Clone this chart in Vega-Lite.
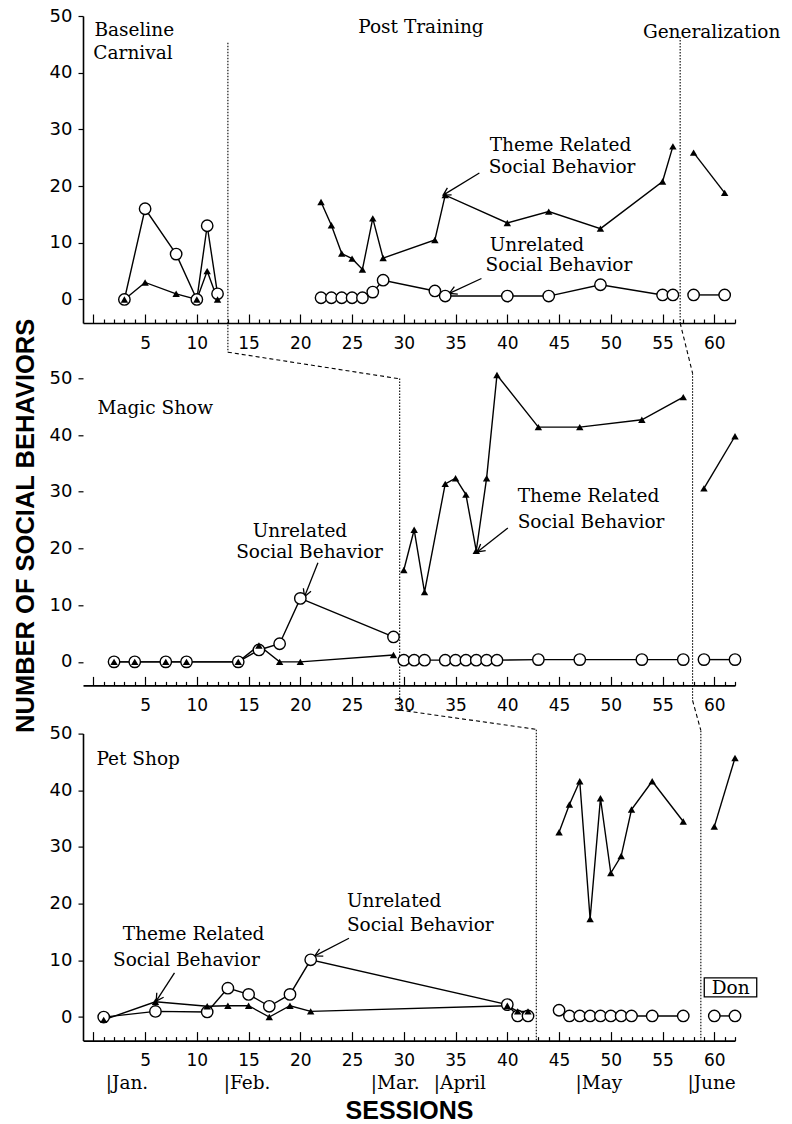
{
"$schema": "https://vega.github.io/schema/vega-lite/v6.json",
"padding": {"left": 12, "top": 7, "right": 5, "bottom": 5},
"background": "white",
"config": {
  "view": {"stroke": null},
  "axis": {"domainColor": "black", "tickColor": "black", "labelColor": "black", "titleColor": "black", "grid": false, "labelFont": "DejaVu Sans", "domainWidth": 1.6, "tickWidth": 1.2},
  "axisX": {"labelFontSize": 17},
  "axisY": {"labelFontSize": 18}
},
"datasets": {
  "pts": [
    {"panel":1,"phase":"B","series":"U","x":3,"y":0},{"panel":1,"phase":"B","series":"U","x":5,"y":16},{"panel":1,"phase":"B","series":"U","x":8,"y":8},{"panel":1,"phase":"B","series":"U","x":10,"y":0},{"panel":1,"phase":"B","series":"U","x":11,"y":13},{"panel":1,"phase":"B","series":"U","x":12,"y":1},
    {"panel":1,"phase":"B","series":"T","x":3,"y":0},{"panel":1,"phase":"B","series":"T","x":5,"y":3},{"panel":1,"phase":"B","series":"T","x":8,"y":1},{"panel":1,"phase":"B","series":"T","x":10,"y":0},{"panel":1,"phase":"B","series":"T","x":11,"y":5},{"panel":1,"phase":"B","series":"T","x":12,"y":0},
    {"panel":1,"phase":"P","series":"U","x":22,"y":0.3},{"panel":1,"phase":"P","series":"U","x":23,"y":0.3},{"panel":1,"phase":"P","series":"U","x":24,"y":0.3},{"panel":1,"phase":"P","series":"U","x":25,"y":0.3},{"panel":1,"phase":"P","series":"U","x":26,"y":0.3},{"panel":1,"phase":"P","series":"U","x":27,"y":1.3},{"panel":1,"phase":"P","series":"U","x":28,"y":3.4},{"panel":1,"phase":"P","series":"U","x":33,"y":1.5},{"panel":1,"phase":"P","series":"U","x":34,"y":0.6},{"panel":1,"phase":"P","series":"U","x":40,"y":0.6},{"panel":1,"phase":"P","series":"U","x":44,"y":0.6},{"panel":1,"phase":"P","series":"U","x":49,"y":2.6},{"panel":1,"phase":"P","series":"U","x":55,"y":0.8},{"panel":1,"phase":"P","series":"U","x":56,"y":0.8},
    {"panel":1,"phase":"P","series":"T","x":22,"y":17.2},{"panel":1,"phase":"P","series":"T","x":23,"y":13.1},{"panel":1,"phase":"P","series":"T","x":24,"y":8.1},{"panel":1,"phase":"P","series":"T","x":25,"y":7.2},{"panel":1,"phase":"P","series":"T","x":26,"y":5.3},{"panel":1,"phase":"P","series":"T","x":27,"y":14.3},{"panel":1,"phase":"P","series":"T","x":28,"y":7.3},{"panel":1,"phase":"P","series":"T","x":33,"y":10.5},{"panel":1,"phase":"P","series":"T","x":34,"y":18.4},{"panel":1,"phase":"P","series":"T","x":40,"y":13.5},{"panel":1,"phase":"P","series":"T","x":44,"y":15.5},{"panel":1,"phase":"P","series":"T","x":49,"y":12.5},{"panel":1,"phase":"P","series":"T","x":55,"y":20.8},{"panel":1,"phase":"P","series":"T","x":56,"y":27},
    {"panel":1,"phase":"G","series":"U","x":58,"y":0.8},{"panel":1,"phase":"G","series":"U","x":61,"y":0.8},
    {"panel":1,"phase":"G","series":"T","x":58,"y":25.9},{"panel":1,"phase":"G","series":"T","x":61,"y":18.8},
    {"panel":2,"phase":"B","series":"U","x":2,"y":0},{"panel":2,"phase":"B","series":"U","x":4,"y":0},{"panel":2,"phase":"B","series":"U","x":7,"y":0},{"panel":2,"phase":"B","series":"U","x":9,"y":0},{"panel":2,"phase":"B","series":"U","x":14,"y":0},{"panel":2,"phase":"B","series":"U","x":16,"y":2.1},{"panel":2,"phase":"B","series":"U","x":18,"y":3.2},{"panel":2,"phase":"B","series":"U","x":20,"y":11.2},{"panel":2,"phase":"B","series":"U","x":29,"y":4.4},
    {"panel":2,"phase":"B","series":"T","x":2,"y":0},{"panel":2,"phase":"B","series":"T","x":4,"y":0},{"panel":2,"phase":"B","series":"T","x":7,"y":0},{"panel":2,"phase":"B","series":"T","x":9,"y":0},{"panel":2,"phase":"B","series":"T","x":14,"y":0},{"panel":2,"phase":"B","series":"T","x":16,"y":2.9},{"panel":2,"phase":"B","series":"T","x":18,"y":0},{"panel":2,"phase":"B","series":"T","x":20,"y":0},{"panel":2,"phase":"B","series":"T","x":29,"y":1.2},
    {"panel":2,"phase":"P","series":"U","x":30,"y":0.3},{"panel":2,"phase":"P","series":"U","x":31,"y":0.3},{"panel":2,"phase":"P","series":"U","x":32,"y":0.3},{"panel":2,"phase":"P","series":"U","x":34,"y":0.3},{"panel":2,"phase":"P","series":"U","x":35,"y":0.3},{"panel":2,"phase":"P","series":"U","x":36,"y":0.3},{"panel":2,"phase":"P","series":"U","x":37,"y":0.3},{"panel":2,"phase":"P","series":"U","x":38,"y":0.3},{"panel":2,"phase":"P","series":"U","x":39,"y":0.3},{"panel":2,"phase":"P","series":"U","x":43,"y":0.4},{"panel":2,"phase":"P","series":"U","x":47,"y":0.4},{"panel":2,"phase":"P","series":"U","x":53,"y":0.4},{"panel":2,"phase":"P","series":"U","x":57,"y":0.4},
    {"panel":2,"phase":"P","series":"T","x":30,"y":16.2},{"panel":2,"phase":"P","series":"T","x":31,"y":23.3},{"panel":2,"phase":"P","series":"T","x":32,"y":12.3},{"panel":2,"phase":"P","series":"T","x":34,"y":31.4},{"panel":2,"phase":"P","series":"T","x":35,"y":32.4},{"panel":2,"phase":"P","series":"T","x":36,"y":29.5},{"panel":2,"phase":"P","series":"T","x":37,"y":19.6},{"panel":2,"phase":"P","series":"T","x":38,"y":32.4},{"panel":2,"phase":"P","series":"T","x":39,"y":50.6},{"panel":2,"phase":"P","series":"T","x":43,"y":41.4},{"panel":2,"phase":"P","series":"T","x":47,"y":41.4},{"panel":2,"phase":"P","series":"T","x":53,"y":42.7},{"panel":2,"phase":"P","series":"T","x":57,"y":46.7},
    {"panel":2,"phase":"G","series":"U","x":59,"y":0.4},{"panel":2,"phase":"G","series":"U","x":62,"y":0.4},
    {"panel":2,"phase":"G","series":"T","x":59,"y":30.6},{"panel":2,"phase":"G","series":"T","x":62,"y":39.8},
    {"panel":3,"phase":"B","series":"U","x":1,"y":0},{"panel":3,"phase":"B","series":"U","x":6,"y":1},{"panel":3,"phase":"B","series":"U","x":11,"y":0.9},{"panel":3,"phase":"B","series":"U","x":13,"y":5.1},{"panel":3,"phase":"B","series":"U","x":15,"y":4},{"panel":3,"phase":"B","series":"U","x":17,"y":1.9},{"panel":3,"phase":"B","series":"U","x":19,"y":4},{"panel":3,"phase":"B","series":"U","x":21,"y":10.1},{"panel":3,"phase":"B","series":"U","x":40,"y":2.2},{"panel":3,"phase":"B","series":"U","x":41,"y":0.2},{"panel":3,"phase":"B","series":"U","x":42,"y":0.2},
    {"panel":3,"phase":"B","series":"T","x":1,"y":-0.5},{"panel":3,"phase":"B","series":"T","x":6,"y":2.7},{"panel":3,"phase":"B","series":"T","x":11,"y":1.9},{"panel":3,"phase":"B","series":"T","x":13,"y":2},{"panel":3,"phase":"B","series":"T","x":15,"y":2},{"panel":3,"phase":"B","series":"T","x":17,"y":0},{"panel":3,"phase":"B","series":"T","x":19,"y":2},{"panel":3,"phase":"B","series":"T","x":21,"y":1},{"panel":3,"phase":"B","series":"T","x":40,"y":2},{"panel":3,"phase":"B","series":"T","x":41,"y":1},{"panel":3,"phase":"B","series":"T","x":42,"y":1},
    {"panel":3,"phase":"P","series":"U","x":45,"y":1.2},{"panel":3,"phase":"P","series":"U","x":46,"y":0.2},{"panel":3,"phase":"P","series":"U","x":47,"y":0.2},{"panel":3,"phase":"P","series":"U","x":48,"y":0.2},{"panel":3,"phase":"P","series":"U","x":49,"y":0.2},{"panel":3,"phase":"P","series":"U","x":50,"y":0.2},{"panel":3,"phase":"P","series":"U","x":51,"y":0.2},{"panel":3,"phase":"P","series":"U","x":52,"y":0.2},{"panel":3,"phase":"P","series":"U","x":54,"y":0.2},{"panel":3,"phase":"P","series":"U","x":57,"y":0.2},
    {"panel":3,"phase":"P","series":"T","x":45,"y":32.6},{"panel":3,"phase":"P","series":"T","x":46,"y":37.5},{"panel":3,"phase":"P","series":"T","x":47,"y":41.6},{"panel":3,"phase":"P","series":"T","x":48,"y":17.3},{"panel":3,"phase":"P","series":"T","x":49,"y":38.6},{"panel":3,"phase":"P","series":"T","x":50,"y":25.4},{"panel":3,"phase":"P","series":"T","x":51,"y":28.4},{"panel":3,"phase":"P","series":"T","x":52,"y":36.6},{"panel":3,"phase":"P","series":"T","x":54,"y":41.6},{"panel":3,"phase":"P","series":"T","x":57,"y":34.5},
    {"panel":3,"phase":"G","series":"U","x":60,"y":0.2},{"panel":3,"phase":"G","series":"U","x":62,"y":0.2},
    {"panel":3,"phase":"G","series":"T","x":60,"y":33.6},{"panel":3,"phase":"G","series":"T","x":62,"y":45.7}
  ],
  "txt": [
    {"panel":1,"x":0.1,"y":47.6,"label":"Baseline"},
    {"panel":1,"x":0.0,"y":43.5,"label":"Carnival"},
    {"panel":1,"x":25.6,"y":48.1,"label":"Post Training"},
    {"panel":1,"x":53.1,"y":47.2,"label":"Generalization"},
    {"panel":1,"x":38.3,"y":27.3,"label":"Theme Related"},
    {"panel":1,"x":38.2,"y":23.4,"label":"Social Behavior"},
    {"panel":1,"x":38.3,"y":9.6,"label":"Unrelated"},
    {"panel":1,"x":37.9,"y":6.0,"label":"Social Behavior"},
    {"panel":2,"x":0.4,"y":44.8,"label":"Magic Show"},
    {"panel":2,"x":15.4,"y":23.0,"label":"Unrelated"},
    {"panel":2,"x":13.8,"y":19.4,"label":"Social Behavior"},
    {"panel":2,"x":41.0,"y":29.2,"label":"Theme Related"},
    {"panel":2,"x":41.0,"y":24.7,"label":"Social Behavior"},
    {"panel":3,"x":0.3,"y":45.5,"label":"Pet Shop"},
    {"panel":3,"x":2.85,"y":14.6,"label":"Theme Related"},
    {"panel":3,"x":1.9,"y":10.0,"label":"Social Behavior"},
    {"panel":3,"x":24.5,"y":20.5,"label":"Unrelated"},
    {"panel":3,"x":24.5,"y":16.3,"label":"Social Behavior"},
    {"panel":3,"x":59.75,"y":5.2,"label":"Don"},
    {"panel":3,"x":1.2,"y":-11.6,"label":"|Jan."},
    {"panel":3,"x":12.6,"y":-11.6,"label":"|Feb."},
    {"panel":3,"x":26.8,"y":-11.6,"label":"|Mar."},
    {"panel":3,"x":32.9,"y":-11.6,"label":"|April"},
    {"panel":3,"x":46.6,"y":-11.6,"label":"|May"},
    {"panel":3,"x":57.4,"y":-11.6,"label":"|June"}
  ],
  "arr": [
    {"panel":1,"id":"a1","x":33.8,"y":18.4,"x2":37.3,"y2":22.3},
    {"panel":1,"id":"a2","x":34.4,"y":1.06,"x2":37.5,"y2":3.7},
    {"panel":2,"id":"a3","x":20.4,"y":11.5,"x2":21.7,"y2":17.5},
    {"panel":2,"id":"a4","x":37.1,"y":19.4,"x2":40.05,"y2":23.6},
    {"panel":3,"id":"a5","x":6.07,"y":2.8,"x2":7.84,"y2":7.8},
    {"panel":3,"id":"a6","x":21.4,"y":10.8,"x2":24.7,"y2":13.9}
  ],
  "ph": [
    {"panel":1,"x":13,"y":45.3,"x2":13,"y2":-9.3,"style":"dot"},
    {"panel":1,"x":13,"y":-9.3,"x2":29.6,"y2":-14.0,"style":"dash"},
    {"panel":1,"x":56.7,"y":46.3,"x2":56.7,"y2":-4.15,"style":"dot"},
    {"panel":1,"x":56.7,"y":-4.15,"x2":57.9,"y2":-13.0,"style":"dash"},
    {"panel":2,"x":29.6,"y":50,"x2":29.6,"y2":-8.5,"style":"dot"},
    {"panel":2,"x":29.6,"y":-8.5,"x2":42.8,"y2":-11.9,"style":"dash"},
    {"panel":2,"x":57.9,"y":50.9,"x2":57.9,"y2":-6.8,"style":"dot"},
    {"panel":2,"x":57.9,"y":-6.8,"x2":58.7,"y2":-12.1,"style":"dash"},
    {"panel":3,"x":42.8,"y":50.7,"x2":42.8,"y2":-4.15,"style":"dot"},
    {"panel":3,"x":58.7,"y":50.5,"x2":58.7,"y2":-4.15,"style":"dot"}
  ],
  "box": [
    {"panel":3,"x":59.03,"x2":64.1,"y":6.93,"y2":3.58}
  ]
},
"vconcat": [
  {
    "width": 652, "height": 307,
    "encoding": {
      "x": {"field": "x", "type": "quantitative", "title": null, "scale": {"domain": [-1, 62], "nice": false, "zero": false},
            "axis": {"values": [0,1,2,3,4,5,6,7,8,9,10,11,12,13,14,15,16,17,18,19,20,21,22,23,24,25,26,27,28,29,30,31,32,33,34,35,36,37,38,39,40,41,42,43,44,45,46,47,48,49,50,51,52,53,54,55,56,57,58,59,60,61,62],
                     "labelExpr": "datum.value % 5 === 0 && datum.value > 0 ? datum.label : ''",
                     "tickSize": {"condition": {"test": "datum.value % 5 === 0", "value": -9}, "value": -4},
                     "labelPadding": 21, "labelOverlap": false, "labelFlush": false}},
      "y": {"field": "y", "type": "quantitative", "title": null, "scale": {"domain": [-4.15, 50], "nice": false, "zero": false},
            "axis": {"values": [0,10,20,30,40,50], "tickSize": 5, "labelPadding": 6}}
    },
    "layer": [
      {"data": {"name": "ph"}, "transform": [{"filter": "datum.panel === 1"}], "mark": {"type": "rule", "color": "black", "strokeWidth": 1.1},
       "encoding": {"x2": {"field": "x2"}, "y2": {"field": "y2"}, "strokeDash": {"field": "style", "type": "nominal", "scale": {"domain": ["dot", "dash"], "range": [[1.5, 1.5], [4, 3]]}, "legend": null}}},
      {"data": {"name": "arr"}, "transform": [{"filter": "datum.panel === 1"}], "mark": {"type": "rule", "color": "black", "strokeWidth": 1.3},
       "encoding": {"x2": {"field": "x2"}, "y2": {"field": "y2"}}},
      {"data": {"name": "arr"}, "transform": [{"filter": "datum.panel === 1"}], "mark": {"type": "point", "shape": "M-1,-0.55L0,0L-1,0.55", "filled": false, "color": "black", "strokeWidth": 1.3, "size": 220, "opacity": 1},
       "encoding": {"angle": {"field": "id", "type": "nominal", "scale": {"type": "ordinal", "domain": ["a1","a2","a3","a4","a5","a6"], "range": [149,155,111.5,142,123,153]}, "legend": null}}},
      {"data": {"name": "pts"}, "transform": [{"filter": "datum.panel === 1"}], "mark": {"type": "line", "color": "black", "strokeWidth": 1.4},
       "encoding": {"detail": [{"field": "phase"}, {"field": "series"}]}},
      {"data": {"name": "pts"}, "transform": [{"filter": "datum.panel === 1 && datum.series === 'U'"}], "mark": {"type": "point", "shape": "circle", "filled": true, "fill": "white", "stroke": "black", "strokeWidth": 1.4, "size": 130, "opacity": 1}},
      {"data": {"name": "pts"}, "transform": [{"filter": "datum.panel === 1 && datum.series === 'T'"}], "mark": {"type": "point", "shape": "triangle-up", "filled": true, "color": "black", "size": 55, "opacity": 1}},
      {"data": {"name": "txt"}, "transform": [{"filter": "datum.panel === 1"}], "mark": {"type": "text", "align": "left", "baseline": "middle", "font": "DejaVu Serif", "fontSize": 18.5, "color": "black"},
       "encoding": {"text": {"field": "label"}}}
    ]
  },
  {
    "width": 652, "height": 315.1,
    "encoding": {
      "x": {"field": "x", "type": "quantitative", "title": null, "scale": {"domain": [-1, 62], "nice": false, "zero": false},
            "axis": {"values": [0,1,2,3,4,5,6,7,8,9,10,11,12,13,14,15,16,17,18,19,20,21,22,23,24,25,26,27,28,29,30,31,32,33,34,35,36,37,38,39,40,41,42,43,44,45,46,47,48,49,50,51,52,53,54,55,56,57,58,59,60,61,62],
                     "labelExpr": "datum.value % 5 === 0 && datum.value > 0 ? datum.label : ''",
                     "tickSize": {"condition": {"test": "datum.value % 5 === 0", "value": -9}, "value": -4},
                     "labelPadding": 21, "labelOverlap": false, "labelFlush": false}},
      "y": {"field": "y", "type": "quantitative", "title": "NUMBER OF SOCIAL BEHAVIORS", "scale": {"domain": [-4.15, 51.43], "nice": false, "zero": false},
            "axis": {"values": [0,10,20,30,40,50], "tickSize": 5, "labelPadding": 6, "domain": false,
                     "titleFont": "Liberation Sans", "titleFontWeight": "bold", "titleFontSize": 25.5, "titleX": -58, "titleY": 155, "titleBaseline": "middle", "titleAngle": 270}}
    },
    "layer": [
      {"mark": {"type": "rule", "color": "black", "strokeWidth": 1.6},
       "encoding": {"x": {"datum": -1}, "y": {"datum": -4.15}, "y2": {"datum": 50}}},
      {"data": {"name": "ph"}, "transform": [{"filter": "datum.panel === 2"}], "mark": {"type": "rule", "color": "black", "strokeWidth": 1.1},
       "encoding": {"x2": {"field": "x2"}, "y2": {"field": "y2"}, "strokeDash": {"field": "style", "type": "nominal", "scale": {"domain": ["dot", "dash"], "range": [[1.5, 1.5], [4, 3]]}, "legend": null}}},
      {"data": {"name": "arr"}, "transform": [{"filter": "datum.panel === 2"}], "mark": {"type": "rule", "color": "black", "strokeWidth": 1.3},
       "encoding": {"x2": {"field": "x2"}, "y2": {"field": "y2"}}},
      {"data": {"name": "arr"}, "transform": [{"filter": "datum.panel === 2"}], "mark": {"type": "point", "shape": "M-1,-0.55L0,0L-1,0.55", "filled": false, "color": "black", "strokeWidth": 1.3, "size": 220, "opacity": 1},
       "encoding": {"angle": {"field": "id", "type": "nominal", "scale": {"type": "ordinal", "domain": ["a1","a2","a3","a4","a5","a6"], "range": [149,155,111.5,142,123,153]}, "legend": null}}},
      {"data": {"name": "pts"}, "transform": [{"filter": "datum.panel === 2"}], "mark": {"type": "line", "color": "black", "strokeWidth": 1.4},
       "encoding": {"detail": [{"field": "phase"}, {"field": "series"}]}},
      {"data": {"name": "pts"}, "transform": [{"filter": "datum.panel === 2 && datum.series === 'U'"}], "mark": {"type": "point", "shape": "circle", "filled": true, "fill": "white", "stroke": "black", "strokeWidth": 1.4, "size": 130, "opacity": 1}},
      {"data": {"name": "pts"}, "transform": [{"filter": "datum.panel === 2 && datum.series === 'T'"}], "mark": {"type": "point", "shape": "triangle-up", "filled": true, "color": "black", "size": 55, "opacity": 1}},
      {"data": {"name": "txt"}, "transform": [{"filter": "datum.panel === 2"}], "mark": {"type": "text", "align": "left", "baseline": "middle", "font": "DejaVu Serif", "fontSize": 18.5, "color": "black"},
       "encoding": {"text": {"field": "label"}}}
    ]
  },
  {
    "width": 652, "height": 307,
    "encoding": {
      "x": {"field": "x", "type": "quantitative", "title": "SESSIONS", "scale": {"domain": [-1, 62], "nice": false, "zero": false},
            "axis": {"values": [0,1,2,3,4,5,6,7,8,9,10,11,12,13,14,15,16,17,18,19,20,21,22,23,24,25,26,27,28,29,30,31,32,33,34,35,36,37,38,39,40,41,42,43,44,45,46,47,48,49,50,51,52,53,54,55,56,57,58,59,60,61,62],
                     "labelExpr": "datum.value % 5 === 0 && datum.value > 0 ? datum.label : ''",
                     "tickSize": {"condition": {"test": "datum.value % 5 === 0", "value": -9}, "value": -4},
                     "labelPadding": 21, "labelOverlap": false, "labelFlush": false,
                     "titleFont": "Liberation Sans", "titleFontWeight": "bold", "titleFontSize": 25, "titleY": 70, "titleBaseline": "middle"}},
      "y": {"field": "y", "type": "quantitative", "title": null, "scale": {"domain": [-4.15, 50], "nice": false, "zero": false},
            "axis": {"values": [0,10,20,30,40,50], "tickSize": 5, "labelPadding": 6}}
    },
    "layer": [
      {"data": {"name": "ph"}, "transform": [{"filter": "datum.panel === 3"}], "mark": {"type": "rule", "color": "black", "strokeWidth": 1.1},
       "encoding": {"x2": {"field": "x2"}, "y2": {"field": "y2"}, "strokeDash": {"field": "style", "type": "nominal", "scale": {"domain": ["dot", "dash"], "range": [[1.5, 1.5], [4, 3]]}, "legend": null}}},
      {"data": {"name": "arr"}, "transform": [{"filter": "datum.panel === 3"}], "mark": {"type": "rule", "color": "black", "strokeWidth": 1.3},
       "encoding": {"x2": {"field": "x2"}, "y2": {"field": "y2"}}},
      {"data": {"name": "arr"}, "transform": [{"filter": "datum.panel === 3"}], "mark": {"type": "point", "shape": "M-1,-0.55L0,0L-1,0.55", "filled": false, "color": "black", "strokeWidth": 1.3, "size": 220, "opacity": 1},
       "encoding": {"angle": {"field": "id", "type": "nominal", "scale": {"type": "ordinal", "domain": ["a1","a2","a3","a4","a5","a6"], "range": [149,155,111.5,142,123,153]}, "legend": null}}},
      {"data": {"name": "pts"}, "transform": [{"filter": "datum.panel === 3"}], "mark": {"type": "line", "color": "black", "strokeWidth": 1.4},
       "encoding": {"detail": [{"field": "phase"}, {"field": "series"}]}},
      {"data": {"name": "pts"}, "transform": [{"filter": "datum.panel === 3 && datum.series === 'U'"}], "mark": {"type": "point", "shape": "circle", "filled": true, "fill": "white", "stroke": "black", "strokeWidth": 1.4, "size": 130, "opacity": 1}},
      {"data": {"name": "pts"}, "transform": [{"filter": "datum.panel === 3 && datum.series === 'T'"}], "mark": {"type": "point", "shape": "triangle-up", "filled": true, "color": "black", "size": 55, "opacity": 1}},
      {"data": {"name": "box"}, "mark": {"type": "rect", "fill": "white", "stroke": "black", "strokeWidth": 1.3},
       "encoding": {"x2": {"field": "x2"}, "y2": {"field": "y2"}}},
      {"data": {"name": "txt"}, "transform": [{"filter": "datum.panel === 3"}], "mark": {"type": "text", "align": "left", "baseline": "middle", "font": "DejaVu Serif", "fontSize": 18.5, "color": "black"},
       "encoding": {"text": {"field": "label"}}}
    ]
  }
],
"spacing": 47.3,
"bounds": "flush"
}
